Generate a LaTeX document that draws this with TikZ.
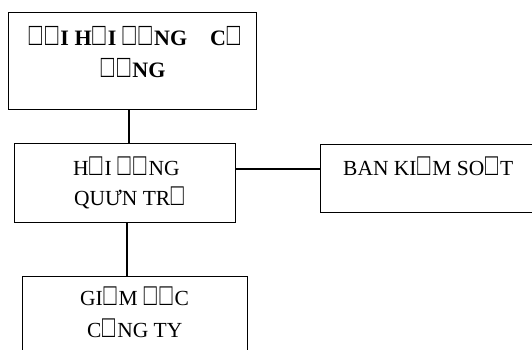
\documentclass[tikz,border=0pt]{standalone}
\usepackage{fontspec}
\setmainfont{Liberation Serif}
\newcommand\bx{\kern0.03em\scalebox{1.0}[1.45]{□}\kern0.1em}
\begin{document}
\begin{tikzpicture}[x=1pt,y=-1pt,
  box/.style={draw,line width=1pt},
  link/.style={line width=2.2pt},
  txt/.style={inner sep=0pt,anchor=base west,font=\fontsize{21.5}{26}\selectfont},
  btxt/.style={txt,font=\fontsize{22}{26}\selectfont\bfseries}]
\useasboundingbox (0,0) rectangle (532,350);
% boxes
\draw[box] (8,13) rectangle (256,110);
\coordinate (b1s) at (129,110);
\draw[box] (14,143) rectangle (235,222);
\coordinate (b2n) at (129,143);
\coordinate (b2e) at (235,169);
\coordinate (b2s) at (127,222);
\draw[box] (320,144) -- (540,144) (320,144) -- (320,212) -- (540,212);
\coordinate (b3w) at (320,169);
\draw[box] (22,360) -- (22,276) -- (247,276) -- (247,360);
\coordinate (b4n) at (127,276);
% connectors
\draw[link] (b1s) -- (b2n);
\draw[link] (b2e) -- (b3w);
\draw[link] (b2s) -- (b4n);
% texts
\node[btxt] (t1a) at (28,46) {\bx\bx I H\bx I \bx\bx NG};
\node[btxt] (t1b) at (210,46) {C\bx};
\node[btxt] (t1c) at (100,78) {\bx\bx NG};
\node[txt] (t2a) at (73,175) {H\bx I \bx\bx NG};
\node[txt] (t2b) at (74,205) {QUƯN TR\bx};
\node[txt] (t3) at (343,175) {BAN KI\bx M SO\bx T};
\node[txt] (t4a) at (80,305) {GI\bx M \bx\bx C};
\node[txt] (t4b) at (87,337) {C\bx NG TY};
\end{tikzpicture}
\end{document}
